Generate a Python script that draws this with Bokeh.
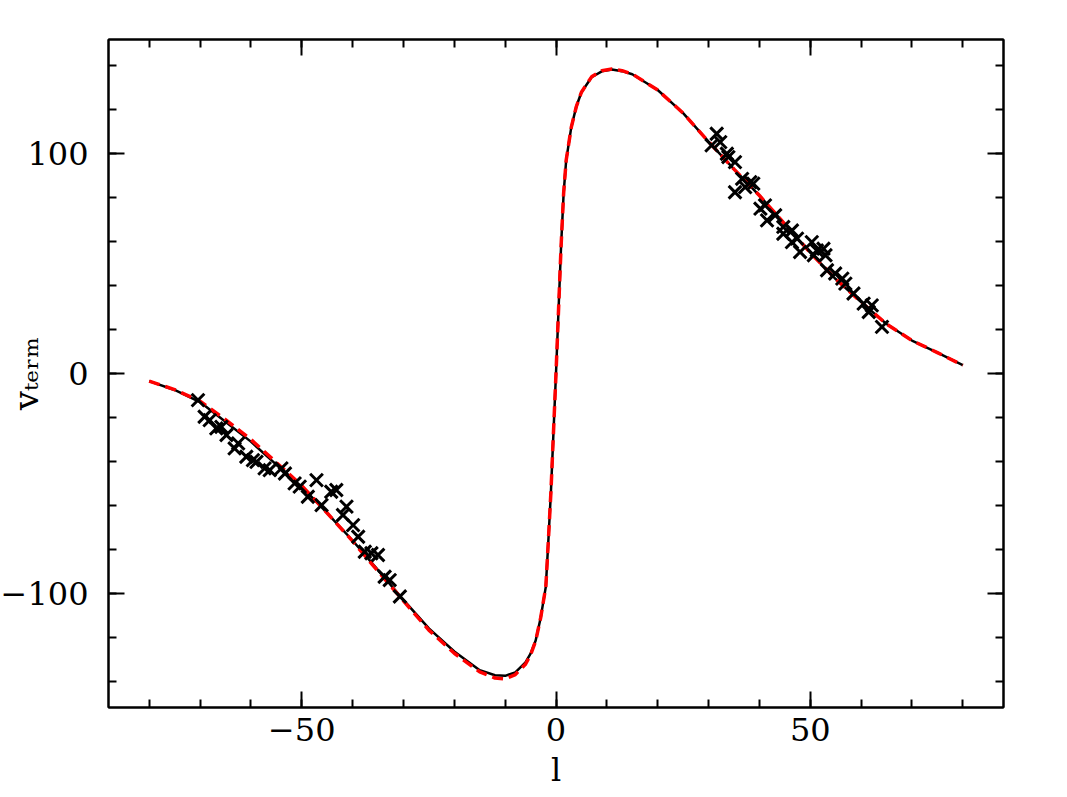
from bokeh.plotting import figure
from bokeh.models import Range1d, LinearAxis, SingleIntervalTicker
from bokeh.embed import file_html
from bokeh.resources import INLINE

# model curve 1 (black, solid)
model_l = [-80, -75, -70, -65, -60, -55, -50, -45, -40, -35, -30, -25, -20, -15, -12, -10, -8, -6, -5, -4, -3, -2, -1.5, -1,
           0, 1, 1.5, 2, 3, 4, 5, 7, 9, 11, 13, 15, 20, 25, 30, 35, 40, 45, 50, 55, 60, 65, 70, 75, 80]
model_v = [-3.5, -7.5, -13, -22, -31, -41.5, -51.5, -63.5, -76, -89.5, -103, -116, -126.5, -135, -137.3, -137.6, -136, -131.5, -127.5, -121.5, -111, -97, -76, -54,
           0, 58, 82, 97, 112, 121.5, 128, 134.8, 137.5, 138.3, 137.6, 136.2, 129, 118.5, 105.5, 93, 81, 68, 55, 43, 32.5, 22.5, 15, 9.5, 3.8]
# model curve 2 (red, dashed)
fit_v = [-3.5, -7.3, -12.6, -21, -30, -40.5, -51, -63.5, -76.3, -90, -103.5, -116.8, -127.3, -135.8, -138.6, -139, -137, -132.3, -128, -121.8, -111, -97, -76, -54,
         0, 58, 82, 97, 112, 121.5, 128, 135, 137.8, 138.6, 137.8, 136.3, 129, 118.5, 105.5, 93, 81, 68, 55, 43, 32.5, 22.5, 15, 9.5, 3.8]

# observed terminal velocities
obs_l = [-70.4, -69.1, -68.1, -66.8, -65.8, -64.8, -63.2, -62.5, -60.9, -59.6, -58.9, -57.3, -56.3, -54.0, -53.3, -51.4,
         -50.4, -48.8, -47.1, -46.1, -44.2, -43.2, -41.9, -41.2, -39.9, -38.9, -37.6, -36.3, -35.0, -33.7, -32.7, -30.7,
         30.6, 31.6, 32.3, 33.6, 33.9, 35.2, 36.6, 35.2, 38.2, 38.8, 37.2, 40.2, 41.1, 41.5, 43.1, 44.7, 44.7, 46.4, 47.4,
         46.4, 50.3, 52.6, 51.3, 48.0, 53.0, 50.7, 53.3, 54.9, 56.3, 56.9, 58.5, 60.5, 62.1, 61.5, 64.1]
obs_v = [-12.1, -19.7, -21.2, -25.0, -24.3, -28.0, -34.1, -31.8, -37.9, -39.4, -40.2, -43.2, -44.0, -43.2, -45.5, -50.0,
         -51.5, -56.1, -48.5, -59.9, -53.8, -53.0, -64.4, -60.6, -69.0, -74.3, -81.1, -81.8, -82.6, -92.5, -94.0, -101.5,
         103.8, 109.1, 105.3, 100.0, 98.5, 96.2, 88.6, 82.5, 87.1, 86.4, 84.8, 75.0, 76.5, 69.7, 72.0, 63.6, 66.7, 65.1, 61.4,
         59.8, 59.8, 56.8, 56.0, 55.3, 53.8, 53.8, 47.0, 45.5, 43.2, 40.9, 36.4, 31.8, 31.0, 28.0, 21.2]

FONT = "DejaVu Serif"
Y_LABEL = "v\u209c\u2091\u1d63\u2098"   # v_term

p = figure(width=1060, height=792, output_backend="svg", toolbar_location=None,
           x_range=Range1d(-88, 88), y_range=Range1d(-152, 152),
           min_border_left=108, min_border_right=57, min_border_top=39, min_border_bottom=85,
           x_axis_label="l", y_axis_label=Y_LABEL)
p.grid.visible = False
p.outline_line_color = "black"
p.outline_line_width = 2
p.background_fill_color = "white"
p.border_fill_color = "white"

def style(ax, ticker, show_labels):
    ax.ticker = ticker
    ax.axis_line_width = 2
    ax.axis_line_color = "black"
    ax.major_tick_line_color = "black"
    ax.minor_tick_line_color = "black"
    ax.major_tick_line_width = 2
    ax.minor_tick_line_width = 2
    ax.major_tick_in = 16
    ax.major_tick_out = 0
    ax.minor_tick_in = 8
    ax.minor_tick_out = 0
    ax.major_label_text_font = FONT
    if show_labels:
        ax.major_label_text_font_size = "32px"
        ax.major_label_text_color = "black"
    else:
        ax.major_label_text_font_size = "0px"
        ax.major_label_standoff = 0
        ax.major_label_text_alpha = 0

xt = SingleIntervalTicker(interval=50, num_minor_ticks=5)
yt = SingleIntervalTicker(interval=100, num_minor_ticks=5)

style(p.xaxis[0], xt, True)
style(p.yaxis[0], yt, True)
xa = p.xaxis[0]
xa.major_label_standoff = 10
xa.axis_label_standoff = 7
xa.axis_label_text_font = FONT
xa.axis_label_text_font_size = "32px"
xa.axis_label_text_font_style = "normal"
xa.axis_label_text_color = "black"
xa.major_label_overrides = {-50: "\u221250", 50: "50", 0: "0"}

ya = p.yaxis[0]
ya.major_label_standoff = 20
ya.major_label_overrides = {-100: "\u2212100", 100: "100", 0: "0"}
ya.axis_label_text_font = FONT
ya.axis_label_text_font_size = "34px"
ya.axis_label_text_font_style = "normal"
ya.axis_label_text_color = "black"
ya.axis_label_standoff = -48

top = LinearAxis()
style(top, SingleIntervalTicker(interval=50, num_minor_ticks=5), False)
p.add_layout(top, "above")
right = LinearAxis()
style(right, SingleIntervalTicker(interval=100, num_minor_ticks=5), False)
p.add_layout(right, "right")

p.line(model_l, model_v, line_color="black", line_width=2.5)
p.line(model_l, fit_v, line_color="red", line_width=3.5, line_dash="11 6")
p.scatter(obs_l, obs_v, marker="x", size=18, line_color="black", line_width=3)

open("out.html", "w").write(file_html(p, INLINE))
